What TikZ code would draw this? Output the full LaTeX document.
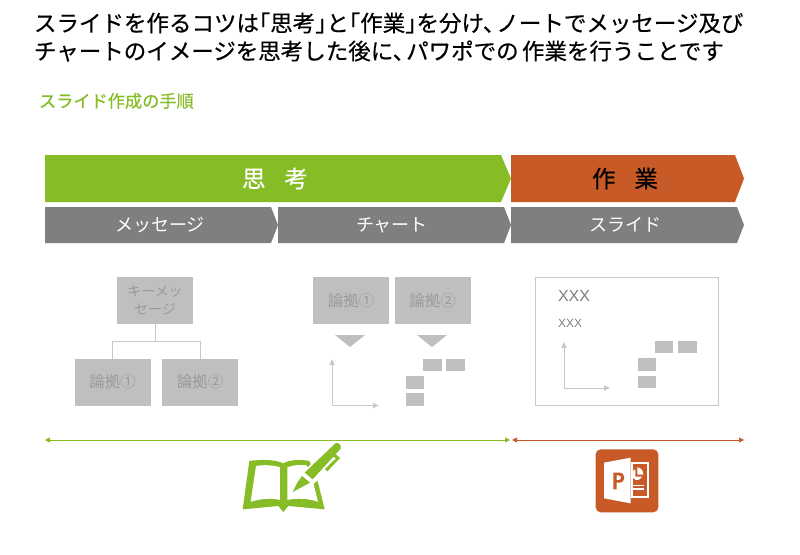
\documentclass[tikz,border=0pt]{standalone}
\usepackage{fontspec}
\setmainfont{Noto Sans CJK JP}
\newfontfamily\latinfont{Liberation Sans}
\newfontfamily\heavyfont{Noto Sans CJK JP}[FakeBold=0.45]
\newcommand{\openbr}{\kern-0.5em「}
\newcommand{\closebr}{」\kern-0.5em}
\usetikzlibrary{arrows.meta}
\definecolor{grn}{HTML}{86BC25}
\definecolor{org}{HTML}{C85A27}
\definecolor{gry}{HTML}{7F7F7F}
\definecolor{lgry}{HTML}{BFBFBF}
\definecolor{ltxt}{HTML}{9A9A9A}
\definecolor{lline}{HTML}{C8C8C8}
\tikzset{
  every node/.style={inner sep=0pt,outer sep=0pt},
  titletext/.style={anchor=west,font=\heavyfont\fontsize{22.5}{24}\selectfont,text=black},
  headtext/.style={font=\heavyfont\fontsize{23.5}{24}\selectfont},
  steptext/.style={font=\fontsize{18}{20}\selectfont,text=white},
  lbox/.style={fill=lgry,text=ltxt,minimum width=76pt,minimum height=47pt,align=center,font=\fontsize{15.5}{19}\selectfont},
  mini/.style={fill=lgry,minimum width=18.5pt,minimum height=12.5pt},
  conn/.style={draw=lline,line width=0.9pt},
  axis/.style={draw=lline,line width=0.9pt,-{Triangle[length=6pt,width=5pt]}},
  span/.style={line width=0.9pt,{Triangle[length=5pt,width=5pt]}-{Triangle[length=5pt,width=5pt]}},
}
\begin{document}
\begin{tikzpicture}[x=1pt,y=-1pt]
\useasboundingbox (0,0) rectangle (800,554);
\fill[white] (0,0) rectangle (800,554);
% titles
\node[titletext] (t1) at (34,23) {スライドを作るコツは\openbr 思考\closebr と\openbr 作業\closebr を分け、\kern-0.4em ノートでメッセージ及び};
\node[titletext] (t2) at (34,51) {チャートのイメージを思考した後に、\kern-0.4em パワポでの\kern0.15em 作業を行うことです};
\node[anchor=west,text=grn,font=\heavyfont\fontsize{17.2}{19}\selectfont] (sub) at (39,101) {スライド作成の手順};
% chevrons
\fill[grn] (45,155) -- (501,155) -- (511,178.5) -- (501,202) -- (45,202) -- cycle;
\node[headtext,text=white] (think) at (275,178.5) {思\hspace{0.8em}考};
\fill[org] (511,155) -- (735,155) -- (744,178.5) -- (735,202) -- (511,202) -- cycle;
\node[headtext,text=black] (work) at (625,178.5) {作\hspace{0.8em}業};
\fill[gry] (45,207) -- (271,207) -- (278,225) -- (271,243) -- (45,243) -- cycle;
\node[steptext] (s1) at (160,225) {メッセージ};
\fill[gry] (278,207) -- (504,207) -- (511,225) -- (504,243) -- (278,243) -- cycle;
\node[steptext] (s2) at (392,225) {チャート};
\fill[gry] (511,207) -- (737,207) -- (744,225) -- (737,243) -- (511,243) -- cycle;
\node[steptext] (s3) at (625,225) {スライド};
% tree
\node[lbox,font=\fontsize{14}{18.5}\selectfont] (key) at (155,300) {キーメッ\\セージ};
\node[lbox] (a1) at (112.5,382) {論拠①};
\node[lbox] (a2) at (200,382) {論拠②};
\coordinate (mid) at (155,341);
\draw[conn] (key.south) -- (mid);
\draw[conn] (mid) -| (a1.north);
\draw[conn] (mid) -| (a2.north);
% chart column
\node[lbox] (b1) at (351,300.5) {論拠①};
\node[lbox] (b2) at (432.5,300.5) {論拠②};
\fill[lgry] (335,335) -- (365,335) -- (350,347) -- cycle;
\fill[lgry] (417,335) -- (447,335) -- (432,347) -- cycle;
\coordinate (o1) at (332,405.5);
\draw[axis] (o1) -- (332,359);
\draw[axis] (o1) -- (379,405.5);
\node[mini] (m1) at (432.5,365) {};
\node[mini] (m2) at (455.5,365) {};
\node[mini] (m3) at (415,382.5) {};
\node[mini] (m4) at (415,399.5) {};
% slide
\node[draw=lline,line width=0.9pt,minimum width=183pt,minimum height=128pt] (frame) at (626.5,341) {};
\node[anchor=west,text=gry,font=\latinfont\fontsize{16}{18}\selectfont] (x1) at (558,296) {XXX};
\node[anchor=west,text=gry,font=\latinfont\fontsize{12}{14}\selectfont] (x2) at (558,323.5) {XXX};
\coordinate (o2) at (564,388);
\draw[axis] (o2) -- (564,342);
\draw[axis] (o2) -- (610,388);
\node[mini] (n1) at (664,347) {};
\node[mini] (n2) at (687.5,347) {};
\node[mini] (n3) at (647,364.5) {};
\node[mini] (n4) at (647,382) {};
% spans
\coordinate (g1) at (45,440);
\coordinate (g2) at (510,440);
\coordinate (r1) at (512,440);
\coordinate (r2) at (744,440);
\draw[span,draw=grn,color=grn] (g1) -- (g2);
\draw[span,draw=org,color=org] (r1) -- (r2);
% book icon
\begin{scope}[shift={(230,430)},x=0.3333pt,y=-0.3333pt]
\fill[grn] (58,93) .. controls (90,88) and (135,88) .. (160,100) .. controls (180,88) and (215,88) .. (238,93) -- (262,150) -- (284,238) -- (175,228) -- (160,246) -- (145,228) -- (38,238) -- cycle;
\fill[white] (78,108) .. controls (100,104) and (130,105) .. (150,112) -- (150,210) .. controls (125,203) and (95,206) .. (62,215) -- cycle;
\fill[white] (172,112) .. controls (190,104) and (215,104) .. (230,106) -- (248,150) -- (264,215) .. controls (235,206) and (200,203) .. (172,210) -- cycle;
% pen
\fill[white] (205,140) -- (315,32) -- (345,45) -- (335,95) -- (290,130) -- (240,170) -- (185,195) -- cycle;
\fill[grn] (224,128) -- (316,40) .. controls (326,36) and (334,44) .. (332,56) -- (248,148) -- cycle;
\fill[grn] (216,138) -- (240,158) -- (214,172) -- (188,186) -- (202,158) -- cycle;
\fill[grn] (306,78) -- (314,70) -- (330,84) -- (292,124) -- (285,117) -- (318,85) -- cycle;
\end{scope}
% powerpoint icon
\begin{scope}[shift={(580,430)},x=0.3333pt,y=-0.3333pt]
\fill[org,rounded corners=5pt] (47,58) rectangle (235,247);
\fill[white] (152,97) rectangle (207,205);
\fill[org] (158,103) rectangle (201,199);
\fill[white] (72,98) -- (152,83) -- (152,220) -- (72,205) -- cycle;
\fill[org,even odd rule] (100,128) -- (100,178) -- (110,178) -- (110,158) -- (118,158) .. controls (138,158) and (138,128) .. (118,128) -- cycle (110,136) -- (110,150) -- (116,150) .. controls (126,150) and (126,136) .. (116,136) -- cycle;
\fill[white] (172,112) -- (172,134) -- (190,134) .. controls (190,122) and (182,112) .. (172,112) -- cycle;
\fill[white] (166,118) .. controls (152,120) and (150,146) .. (168,150) .. controls (178,150) and (184,146) .. (186,140) -- (166,140) -- cycle;
\fill[white] (152,164) rectangle (192,169);
\fill[white] (152,175) rectangle (192,180);
\end{scope}
\end{tikzpicture}
\end{document}
